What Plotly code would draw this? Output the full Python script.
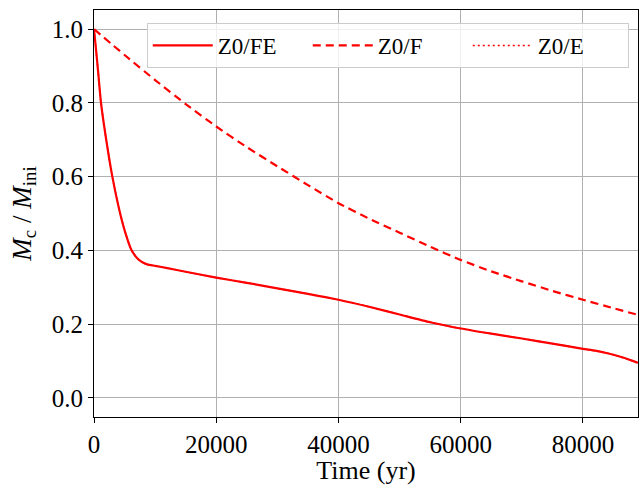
import plotly.graph_objects as go

# Z0/FE (solid)
t_fe = [0, 300, 700, 1145, 2000, 3000, 4000, 5000, 6150, 7000, 7525, 8000, 8700,
        10000, 12000, 15000, 20000, 25000, 30000, 35000, 40000, 45000, 50000,
        55000, 60000, 65000, 70000, 75000, 80000, 82000, 84000, 86000, 88000, 89000]
m_fe = [1.0, 0.95, 0.88, 0.80, 0.70, 0.60, 0.52, 0.455, 0.40, 0.38, 0.372, 0.367, 0.362,
        0.358, 0.352, 0.342, 0.326, 0.312, 0.297, 0.282, 0.266, 0.247, 0.226,
        0.205, 0.188, 0.174, 0.161, 0.147, 0.133, 0.128, 0.121, 0.112, 0.101, 0.095]

# Z0/F (dashed)
t_f = [0, 5000, 10000, 15000, 20000, 25000, 30000, 35000, 40000, 45000, 50000,
       55000, 60000, 65000, 70000, 75000, 80000, 85000, 89000]
m_f = [1.0, 0.93, 0.862, 0.797, 0.736, 0.680, 0.628, 0.577, 0.528, 0.486, 0.448,
       0.410, 0.374, 0.343, 0.316, 0.290, 0.266, 0.243, 0.225]

# Z0/E (dotted) - coincides with Z0/FE in the picture
t_e = t_fe
m_e = m_fe

x_ticks = [0, 20000, 40000, 60000, 80000]
y_ticks = [0.0, 0.2, 0.4, 0.6, 0.8, 1.0]

FONT = "Liberation Serif"
RED = "#ff0000"

fig = go.Figure()
fig.add_trace(go.Scatter(x=t_e, y=m_e, mode="lines", name="Z0/E",
                         line=dict(color=RED, width=1.5, dash="2px,3px", shape="spline", smoothing=0.6),
                         legendrank=3))
fig.add_trace(go.Scatter(x=t_fe, y=m_fe, mode="lines", name="Z0/FE",
                         line=dict(color=RED, width=2.2, shape="spline", smoothing=0.6),
                         legendrank=1))
fig.add_trace(go.Scatter(x=t_f, y=m_f, mode="lines", name="Z0/F",
                         line=dict(color=RED, width=2.2, dash="8px,5px", shape="spline", smoothing=0.6),
                         legendrank=2))

axis_common = dict(showline=True, linecolor="black", linewidth=1.2, mirror=True,
                   ticks="outside", ticklen=5, tickcolor="black",
                   showgrid=True, gridcolor="#b0b0b0", gridwidth=1, zeroline=False,
                   tickfont=dict(family=FONT, size=25, color="black"))

fig.update_layout(
    width=644, height=485,
    margin=dict(l=94, r=6, t=10, b=68),
    paper_bgcolor="white", plot_bgcolor="white",
    font=dict(family=FONT, color="black"),
    xaxis=dict(range=[0, 89000], tickvals=x_ticks, tickformat="d",
               title=dict(text="Time (yr)", font=dict(family=FONT, size=26), standoff=0),
               **axis_common),
    yaxis=dict(range=[-0.052, 1.052], tickvals=y_ticks, tickformat=".1f",
               title=dict(text="<i>M</i><sub>c</sub> / <i>M</i><sub>ini</sub>",
                          font=dict(family=FONT, size=27), standoff=12),
               **axis_common),
    legend=dict(orientation="h", x=0.097, xanchor="left", y=0.968, yanchor="top",
                bgcolor="rgba(255,255,255,0.8)", bordercolor="#cccccc", borderwidth=1,
                font=dict(family=FONT, size=23, color="black"),
                itemwidth=60, entrywidth=85),
    showlegend=True,
)

fig.write_html("out.html")
